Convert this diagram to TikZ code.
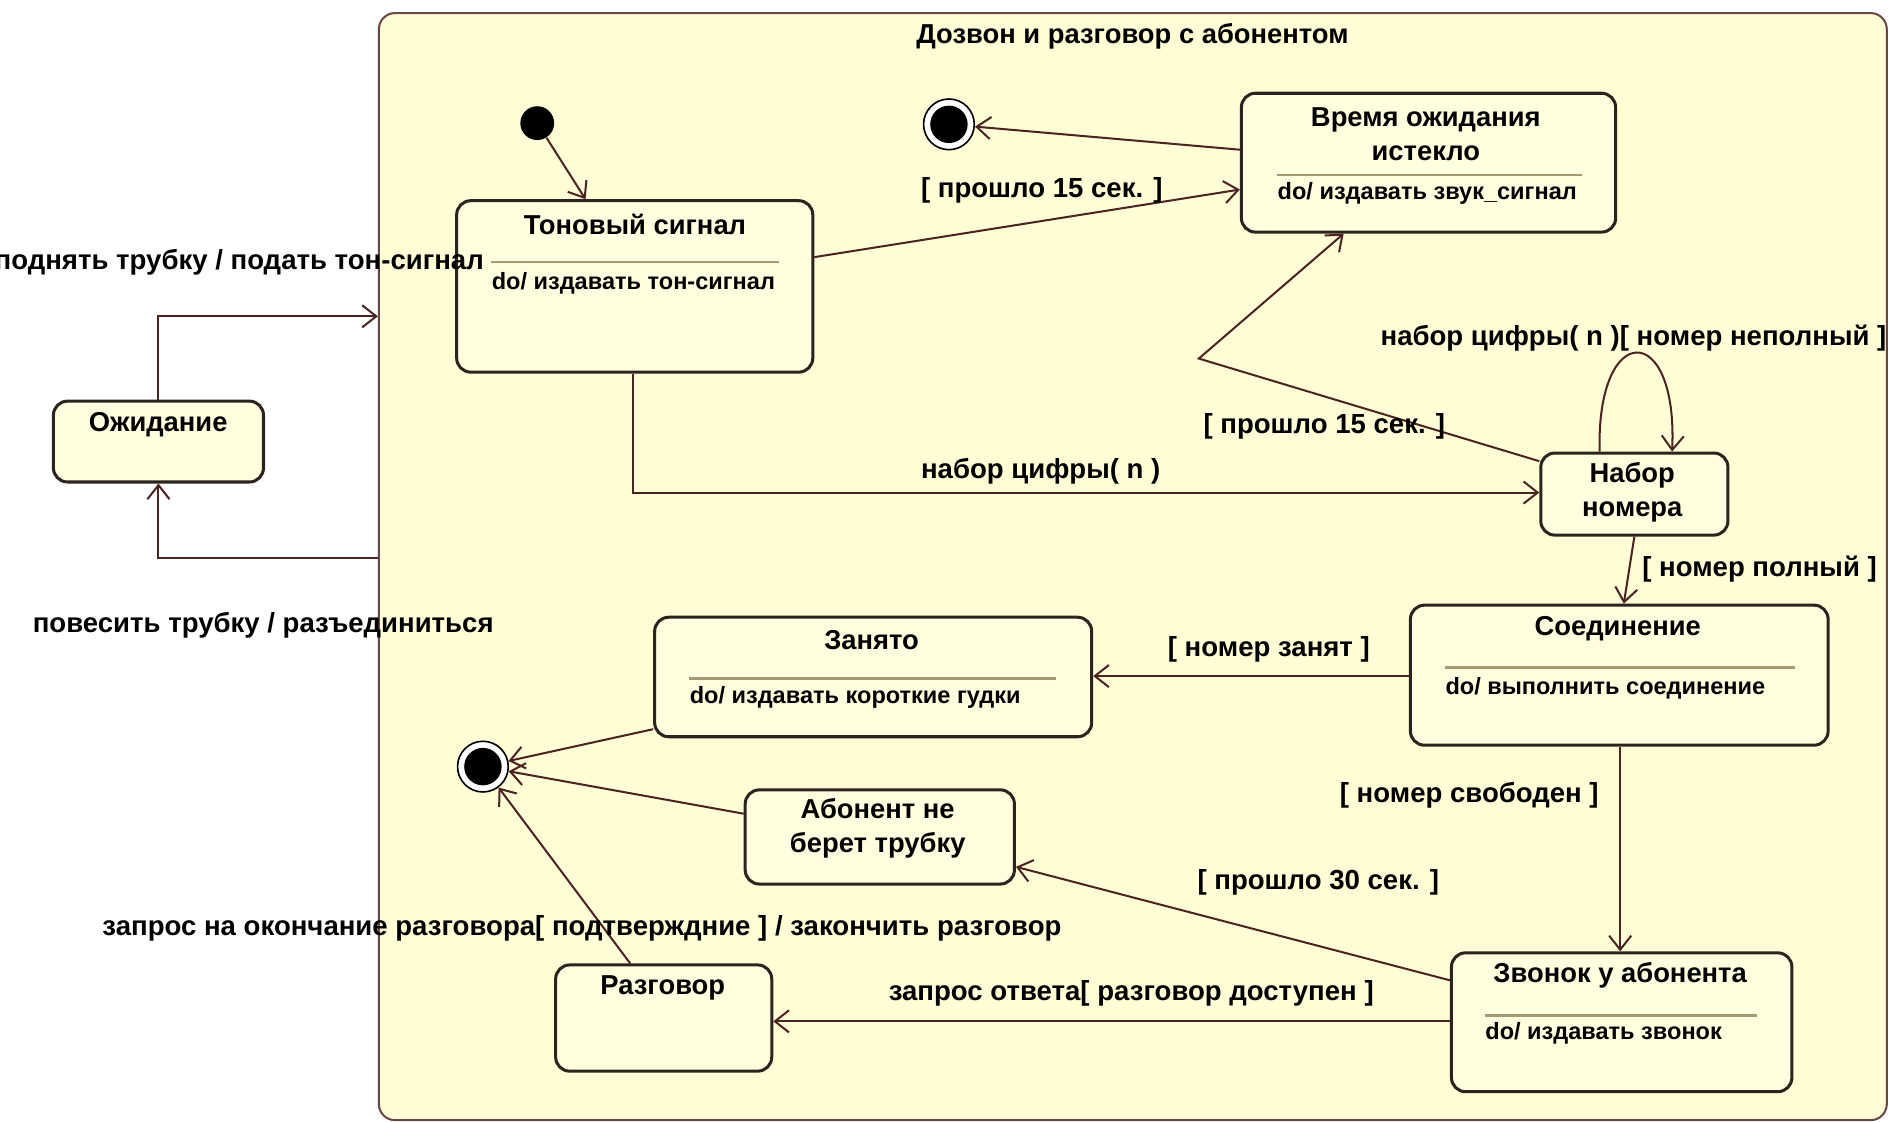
\documentclass[tikz,border=0pt]{standalone}
\usepackage{fontspec}
\setmainfont{Liberation Sans}
\usetikzlibrary{arrows.meta}

\definecolor{rahmen}{RGB}{105,70,70}
\definecolor{gelb}{RGB}{255,253,214}
\definecolor{boxgelb}{RGB}{255,254,222}
\definecolor{kante}{RGB}{45,35,30}
\definecolor{pfeil}{RGB}{75,35,35}
\definecolor{trennfarbe}{RGB}{165,155,115}

\newcommand{\px}{0.6pt}

\tikzset{
	zustand/.style={draw=kante, line width=1.5pt, rounded corners=7pt, fill=boxgelb, anchor=north west, inner sep=0pt},
	titel/.style={font=\fontsize{13.6}{16.8}\selectfont\bfseries, inner sep=0pt},
	aktion/.style={font=\fontsize{11.7}{14}\selectfont\bfseries, anchor=west, inner sep=0pt},
	trenn/.style={draw=trennfarbe, line width=1.2pt},
	ueber/.style={draw=pfeil, line width=1pt, -{Straight Barb[length=7pt,width=11pt]}},
	beschr/.style={font=\fontsize{13.7}{16.8}\selectfont\bfseries, inner sep=0pt},
	endpunkt/.style={circle, draw=black, line width=0.8pt, fill=white, minimum size=42*\px, inner sep=0pt},
	punkt/.style={circle, fill=black, inner sep=0pt},
}

\begin{document}
\begin{tikzpicture}[x=0.6pt,y=-0.6pt]
	\fill[white] (0,0) rectangle (1568,929);
	\useasboundingbox (0,0) rectangle (1568,929);

	% Rahmen
	\node[draw=rahmen, line width=1pt, rounded corners=8pt, fill=gelb, anchor=north west, minimum width=1249*\px, minimum height=917*\px, inner sep=0pt] (dozvon) at (313,10) {};
	\node[titel] (dozvontitel) at (938,30) {Дозвон и разговор с абонентом};

	% Start / Ende
	\node[punkt, minimum size=28*\px] (start) at (445,102) {};
	\node[endpunkt] (ende1) at (786,103) {};
	\node[punkt, minimum size=31*\px] (ende1k) at (786,103) {};
	\node[endpunkt] (ende2) at (400,635) {};
	\node[punkt, minimum size=31*\px] (ende2k) at (400,635) {};

	% Zustaende
	\node[zustand, minimum width=295*\px, minimum height=142*\px] (ton) at (377,165) {};
	\node[titel] (tontitel) at (526,186) {Тоновый сигнал};
	\draw[trenn] (407,217) -- (645,217);
	\node[aktion] (tondo) at (407,235) {do/ издавать тон-сигнал};

	\node[zustand, minimum width=310*\px, minimum height=115*\px] (zeit) at (1027,76) {};
	\node[titel, align=center] (zeittitel) at (1181,111) {Время ожидания\\истекло};
	\draw[trenn] (1058,145) -- (1310,145);
	\node[aktion] (zeitdo) at (1058,160) {do/ издавать звук\_сигнал};

	\node[zustand, minimum width=155*\px, minimum height=68*\px] (nabor) at (1275,374) {};
	\node[titel, align=center] (nabortitel) at (1352,408) {Набор\\номера};

	\node[zustand, minimum width=174*\px, minimum height=67*\px] (ozh) at (43,331) {};
	\node[titel] (ozhtitel) at (131,352) {Ожидание};

	\node[zustand, minimum width=346*\px, minimum height=116*\px] (soed) at (1167,500) {};
	\node[titel] (soedtitel) at (1340,521) {Соединение};
	\draw[trenn] (1197,553) -- (1487,553);
	\node[aktion] (soeddo) at (1197,570) {do/ выполнить соединение};

	\node[zustand, minimum width=362*\px, minimum height=99*\px] (zan) at (541,510) {};
	\node[titel] (zantitel) at (722,530) {Занято};
	\draw[trenn] (571,562) -- (875,562);
	\node[aktion] (zando) at (571,578) {do/ издавать короткие гудки};

	\node[zustand, minimum width=223*\px, minimum height=78*\px] (abon) at (616,653) {};
	\node[titel, align=center] (abontitel) at (727,686) {Абонент не\\берет трубку};

	\node[zustand, minimum width=282*\px, minimum height=115*\px] (zvon) at (1201,788) {};
	\node[titel] (zvontitel) at (1342,808) {Звонок у абонента};
	\draw[trenn] (1230,841) -- (1455,841);
	\node[aktion] (zvondo) at (1230,856) {do/ издавать звонок};

	\node[zustand, minimum width=179*\px, minimum height=88*\px] (razg) at (459,798) {};
	\node[titel] (razgtitel) at (549,818) {Разговор};

	% Uebergaenge
	\draw[ueber] (start) -- (ton.north -| 485,0);
	\draw[ueber] (zeit.west |- 0,124) -- (ende1);
	\draw[ueber] (ton.east |- 0,213) -- (zeit.west |- 0,157);
	\node[beschr] (l1) at (863,158) {[ прошло 15 сек. ]};

	\coordinate (knick) at (993,297);
	\draw[ueber] (nabor.west |- 0,382) -- (knick) -- (zeit.south -| 1113,0);
	\node[beschr] (l2) at (1097,353) {[ прошло 15 сек. ]};

	\draw[ueber] (nabor.north -| 1325,0) .. controls (1322,265) and (1390,265) .. (nabor.north -| 1385,0);
	\node[beschr] (l3) at (1353,280) {набор цифры( n )[ номер неполный ]};

	\draw[ueber] (ton.south -| 524,0) |- (nabor.west |- 0,408);
	\node[beschr] (l4) at (862,390) {набор цифры( n )};

	\draw[ueber] (ozh.north) |- (dozvon.west |- 0,262);
	\node[beschr, anchor=east] (l5) at (401,217) {поднять трубку / подать тон-сигнал};
	\draw[ueber] (dozvon.west |- 0,462) -| (ozh.south);
	\node[beschr] (l6) at (218,518) {повесить трубку / разъединиться};

	\draw[ueber] (nabor.south) -- (soed.north -| 1345,0);
	\node[beschr, anchor=west] (l7) at (1360,471) {[ номер полный ]};

	\draw[ueber] (soed.west |- 0,560) -- (zan.east |- 0,560);
	\node[beschr] (l8) at (1051,538) {[ номер занят ]};

	\draw[ueber] (zan.west |- 0,604) -- (ende2);
	\draw[ueber] (abon.west |- 0,674) -- (ende2);

	\draw[ueber] (soed.south -| 1342,0) -- (zvon.north -| 1342,0);
	\node[beschr] (l9) at (1217,659) {[ номер свободен ]};

	\draw[ueber] (zvon.west |- 0,812) -- (abon.east |- 0,718);
	\node[beschr] (l10) at (1092,731) {[ прошло 30 сек. ]};

	\draw[ueber] (zvon.west |- 0,846) -- (razg.east |- 0,846);
	\node[beschr] (l11) at (937,823) {запрос ответа[ разговор доступен ]};

	\draw[ueber] (razg.north -| 522,0) -- (ende2);
	\node[beschr] (l12) at (482,769) {запрос на окончание разговора[ подтверждние ] / закончить разговор};
\end{tikzpicture}
\end{document}
